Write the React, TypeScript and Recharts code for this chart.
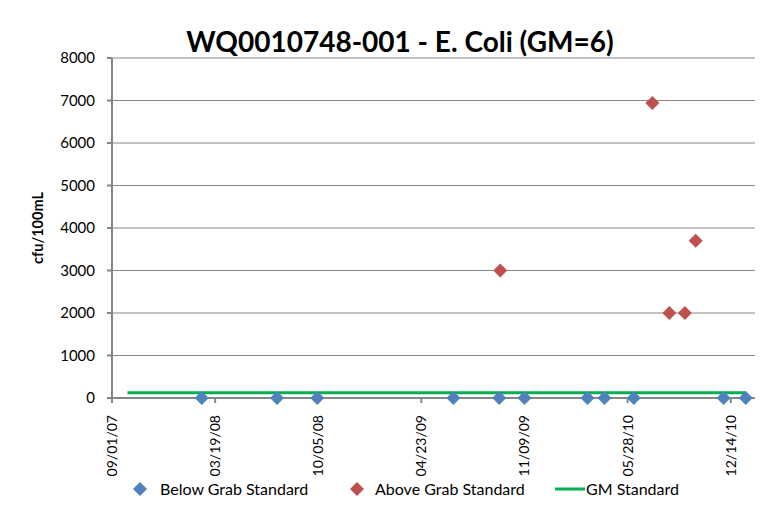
import { ScatterChart, Scatter, XAxis, YAxis, CartesianGrid, Legend } from "recharts"

const tickDates = ["09/01/07", "03/19/08", "10/05/08", "04/23/09", "11/09/09", "05/28/10", "12/14/10"]
const axisEndDate = "01/30/11"
const yTicks = [0, 1000, 2000, 3000, 4000, 5000, 6000, 7000, 8000]

const belowDates = ["02/22/08", "07/17/08", "10/03/08", "06/24/09", "09/21/09", "11/09/09", "03/11/10", "04/13/10", "06/09/10", "11/30/10", "01/12/11"]
const belowValues = [0, 0, 0, 0, 0, 0, 0, 0, 0, 0, 0]

const aboveDates = ["09/23/09", "07/15/10", "08/17/10", "09/16/10", "10/07/10"]
const aboveValues = [3000, 6940, 2000, 2000, 3700]

const gmDates = ["10/01/07", "01/12/11"]
const gmValues = [126, 126]

const FONT = "Lato, 'Open Sans', sans-serif"
const BLUE = "#4F81BD"
const RED = "#C0504D"
const GREEN = "#00B050"
const GRID = "#868686"

function toTime(s: string) {
  const [m, d, y] = s.split("/").map(Number)
  return Date.UTC(2000 + y, m - 1, d)
}

function fmtDate(t: number) {
  const d = new Date(t)
  const p = (n: number) => String(n).padStart(2, "0")
  return `${p(d.getUTCMonth() + 1)}/${p(d.getUTCDate())}/${p(d.getUTCFullYear() % 100)}`
}

const toPoints = (dates: string[], values: number[]) =>
  dates.map((s, i) => ({ t: toTime(s), v: values[i] }))

const belowData = toPoints(belowDates, belowValues)
const aboveData = toPoints(aboveDates, aboveValues)
const gmData = toPoints(gmDates, gmValues)
const tickTimes = tickDates.map(toTime)

const Diamond = (props: any) => {
  const { cx, cy, fill } = props
  const r = 7
  return <polygon points={`${cx},${cy - r} ${cx + r},${cy} ${cx},${cy + r} ${cx - r},${cy}`} fill={fill} />
}

const Nothing = () => <g />

function ChartLegend() {
  const text: React.CSSProperties = { position: "absolute", top: 0, fontFamily: FONT, fontSize: 16, color: "#000", lineHeight: "20px", whiteSpace: "nowrap" }
  return (
    <div style={{ position: "relative", width: 784, height: 20 }}>
      <svg width={784} height={20} style={{ position: "absolute", left: 0, top: 0 }}>
        <polygon points="140,3 147,10 140,17 133,10" fill={BLUE} />
        <polygon points="357,3 364,10 357,17 350,10" fill={RED} />
        <line x1={555} x2={585} y1={10} y2={10} stroke={GREEN} strokeWidth={3} />
      </svg>
      <span style={{ ...text, left: 160 }}>Below Grab Standard</span>
      <span style={{ ...text, left: 375 }}>Above Grab Standard</span>
      <span style={{ ...text, left: 586 }}>GM Standard</span>
    </div>
  )
}

export default function App() {
  return (
    <div style={{ position: "relative", width: 784, height: 511, margin: -8, overflow: "hidden", background: "#fff" }}>
      <div style={{ position: "absolute", left: 6, top: 6, width: 900, height: 900, border: "1px solid #BFBFBF" }} />
      <div style={{ position: "absolute", left: 0, top: 24, width: 800, textAlign: "center", fontFamily: FONT, fontWeight: 700, fontSize: 28, color: "#000" }}>
        WQ0010748-001 - E. Coli (GM=6)
      </div>
      <div style={{ position: "absolute", left: 0, top: 0 }}>
        <ScatterChart width={784} height={511} margin={{ top: 58, right: 29, bottom: 0, left: 0 }}>
          <CartesianGrid vertical={false} stroke={GRID} strokeWidth={1} />
          <XAxis
            type="number"
            dataKey="t"
            domain={[tickTimes[0], toTime(axisEndDate)]}
            ticks={tickTimes}
            interval={0}
            tickFormatter={fmtDate}
            angle={-90}
            textAnchor="end"
            height={93}
            tickSize={5}
            tickMargin={12}
            stroke={GRID}
            strokeWidth={2}
            tick={{ fill: "#000", fontSize: 14, fontFamily: FONT, dx: -5 }}
            allowDataOverflow
          />
          <YAxis
            type="number"
            dataKey="v"
            domain={[0, 8000]}
            ticks={yTicks}
            interval={0}
            width={112}
            tickSize={5}
            tickMargin={12}
            stroke={GRID}
            strokeWidth={2}
            tick={{ fill: "#000", fontSize: 15, fontFamily: FONT }}
            label={{ value: "cfu/100mL", angle: -90, position: "insideLeft", offset: 38, style: { fontFamily: FONT, fontWeight: 700, fontSize: 14.5, fill: "#000", textAnchor: "middle" } }}
          />
          <Legend content={() => <ChartLegend />} wrapperStyle={{ top: 479, left: 0, width: 784, height: 20 }} />
          <Scatter name="GM Standard" data={gmData} fill={GREEN} line={{ stroke: GREEN, strokeWidth: 3 }} shape={Nothing} isAnimationActive={false} />
          <Scatter name="Below Grab Standard" data={belowData} fill={BLUE} shape={Diamond} isAnimationActive={false} />
          <Scatter name="Above Grab Standard" data={aboveData} fill={RED} shape={Diamond} isAnimationActive={false} />
        </ScatterChart>
      </div>
    </div>
  )
}
